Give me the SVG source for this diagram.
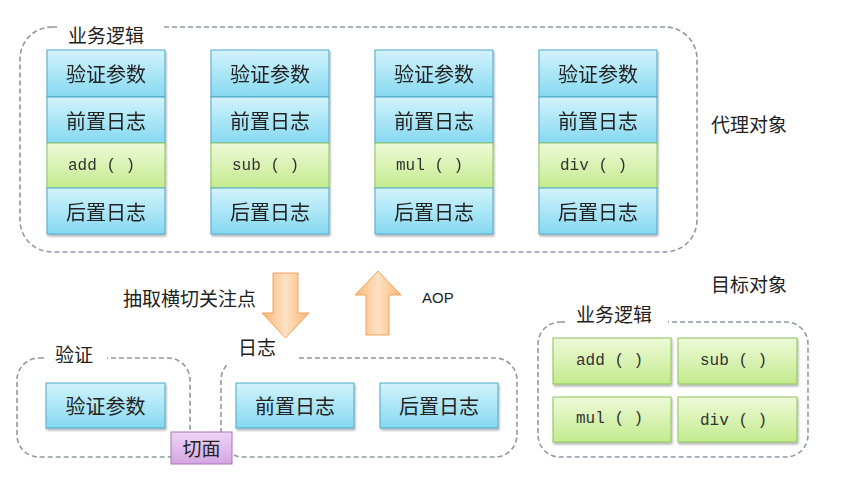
<svg xmlns="http://www.w3.org/2000/svg" width="853" height="481" viewBox="0 0 853 481">
<defs>
<linearGradient id="gb" x1="0" y1="0" x2="0" y2="1"><stop offset="0" stop-color="#d2f3fb"/><stop offset="1" stop-color="#86d9f1"/></linearGradient>
<linearGradient id="gg" x1="0" y1="0" x2="0" y2="1"><stop offset="0" stop-color="#eefad8"/><stop offset="1" stop-color="#c3eb8e"/></linearGradient>
<linearGradient id="go" x1="0" y1="0" x2="1" y2="0"><stop offset="0" stop-color="#f9b774"/><stop offset="0.5" stop-color="#fde1c4"/><stop offset="1" stop-color="#f9b774"/></linearGradient>
<linearGradient id="gp" x1="0" y1="0" x2="0" y2="1"><stop offset="0" stop-color="#efd4f5"/><stop offset="1" stop-color="#d4a6e2"/></linearGradient>
<filter id="sh" x="-10%" y="-10%" width="130%" height="140%"><feDropShadow dx="1" dy="2" stdDeviation="1.2" flood-color="#000" flood-opacity="0.3"/></filter>
</defs>
<style>
.dash{fill:none;stroke:#8e9aa6;stroke-width:1.6;stroke-dasharray:5,3}
.blue{fill:url(#gb);stroke:#4fa8c8;stroke-width:1}
.green{fill:url(#gg);stroke:#8cc35c;stroke-width:1}
.zh{font-family:"Noto Sans CJK SC","Liberation Sans",sans-serif;font-size:20px;fill:#222}
.lbl{font-family:"Noto Sans CJK SC","Liberation Sans",sans-serif;font-size:19px;fill:#222}
.mono{font-family:"Liberation Mono","Noto Sans CJK SC",monospace;font-size:16px;fill:#333}
.lat{font-family:"Liberation Sans",sans-serif;font-size:15px;fill:#222}
.c{text-anchor:middle;dominant-baseline:central}
</style>
<rect width="853" height="481" fill="#fff"/>
<g id="proxy-container">
<rect class="dash" x="20" y="27" width="677" height="225" rx="32"/>
<rect x="58" y="20" width="104" height="14" fill="#fff"/>
<text class="lbl" x="68" y="34" dominant-baseline="central">业务逻辑</text>
</g>
<g id="col-add" filter="url(#sh)">
<rect class="blue" x="47" y="50" width="118" height="47"/><text class="zh c" x="106" y="73">验证参数</text>
<rect class="blue" x="47" y="97" width="118" height="46"/><text class="zh c" x="106" y="120">前置日志</text>
<rect class="green" x="47" y="143" width="118" height="45"/><text class="mono" x="68" y="166" dominant-baseline="central">add ( )</text>
<rect class="blue" x="47" y="188" width="118" height="46"/><text class="zh c" x="106" y="211">后置日志</text>
</g>
<g id="col-sub" filter="url(#sh)">
<rect class="blue" x="211" y="50" width="118" height="47"/><text class="zh c" x="270" y="73">验证参数</text>
<rect class="blue" x="211" y="97" width="118" height="46"/><text class="zh c" x="270" y="120">前置日志</text>
<rect class="green" x="211" y="143" width="118" height="45"/><text class="mono" x="232" y="166" dominant-baseline="central">sub ( )</text>
<rect class="blue" x="211" y="188" width="118" height="46"/><text class="zh c" x="270" y="211">后置日志</text>
</g>
<g id="col-mul" filter="url(#sh)">
<rect class="blue" x="375" y="50" width="118" height="47"/><text class="zh c" x="434" y="73">验证参数</text>
<rect class="blue" x="375" y="97" width="118" height="46"/><text class="zh c" x="434" y="120">前置日志</text>
<rect class="green" x="375" y="143" width="118" height="45"/><text class="mono" x="396" y="166" dominant-baseline="central">mul ( )</text>
<rect class="blue" x="375" y="188" width="118" height="46"/><text class="zh c" x="434" y="211">后置日志</text>
</g>
<g id="col-div" filter="url(#sh)">
<rect class="blue" x="539" y="50" width="118" height="47"/><text class="zh c" x="598" y="73">验证参数</text>
<rect class="blue" x="539" y="97" width="118" height="46"/><text class="zh c" x="598" y="120">前置日志</text>
<rect class="green" x="539" y="143" width="118" height="45"/><text class="mono" x="560" y="166" dominant-baseline="central">div ( )</text>
<rect class="blue" x="539" y="188" width="118" height="46"/><text class="zh c" x="598" y="211">后置日志</text>
</g>
<text class="lbl" x="711" y="123" dominant-baseline="central">代理对象</text>
<g id="connectors">
<polygon points="273,273 298,273 298,313 309,313 285.5,338 262,313 273,313" fill="url(#go)" stroke="#f2a35e" stroke-width="1"/>
<polygon points="378,271 401,295 389,295 389,335 366,335 366,295 355,295" fill="url(#go)" stroke="#f2a35e" stroke-width="1"/>
<text class="lbl" x="123" y="297" dominant-baseline="central">抽取横切关注点</text>
<text class="lat" x="422" y="297" dominant-baseline="central">AOP</text>
</g>
<g id="verify">
<rect class="dash" x="17" y="358" width="173" height="99" rx="22"/>
<rect x="45" y="350" width="62" height="14" fill="#fff"/>
<text class="lbl" x="55" y="353" dominant-baseline="central">验证</text>
<rect class="blue" x="46" y="383" width="119" height="45" filter="url(#sh)"/>
<text class="zh c" x="105.5" y="405">验证参数</text>
</g>
<g id="log">
<rect class="dash" x="221" y="358" width="296" height="99" rx="22"/>
<rect x="228" y="350" width="68" height="14" fill="#fff"/>
<text class="lbl" x="238" y="346" dominant-baseline="central">日志</text>
<rect class="blue" x="236" y="383" width="118" height="45" filter="url(#sh)"/>
<text class="zh c" x="295" y="405">前置日志</text>
<rect class="blue" x="380" y="383" width="118" height="45" filter="url(#sh)"/>
<text class="zh c" x="439" y="405">后置日志</text>
</g>
<g id="aspect">
<rect x="171" y="432" width="61" height="32" fill="url(#gp)" stroke="#a873b8" stroke-width="1"/>
<text class="lbl c" x="201.5" y="447">切面</text>
</g>
<g id="target">
<text class="lbl" x="711" y="283" dominant-baseline="central">目标对象</text>
<rect class="dash" x="538" y="322" width="270" height="135" rx="22"/>
<rect x="566" y="315" width="102" height="14" fill="#fff"/>
<text class="lbl" x="576" y="313" dominant-baseline="central">业务逻辑</text>
<rect class="green" x="553" y="338" width="118" height="46" filter="url(#sh)"/><text class="mono" x="576" y="361" dominant-baseline="central">add ( )</text>
<rect class="green" x="678" y="338" width="119" height="46" filter="url(#sh)"/><text class="mono" x="700" y="361" dominant-baseline="central">sub ( )</text>
<rect class="green" x="553" y="397" width="118" height="45" filter="url(#sh)"/><text class="mono" x="576" y="419" dominant-baseline="central">mul ( )</text>
<rect class="green" x="678" y="397" width="119" height="45" filter="url(#sh)"/><text class="mono" x="700" y="421" dominant-baseline="central">div ( )</text>
</g>
</svg>
